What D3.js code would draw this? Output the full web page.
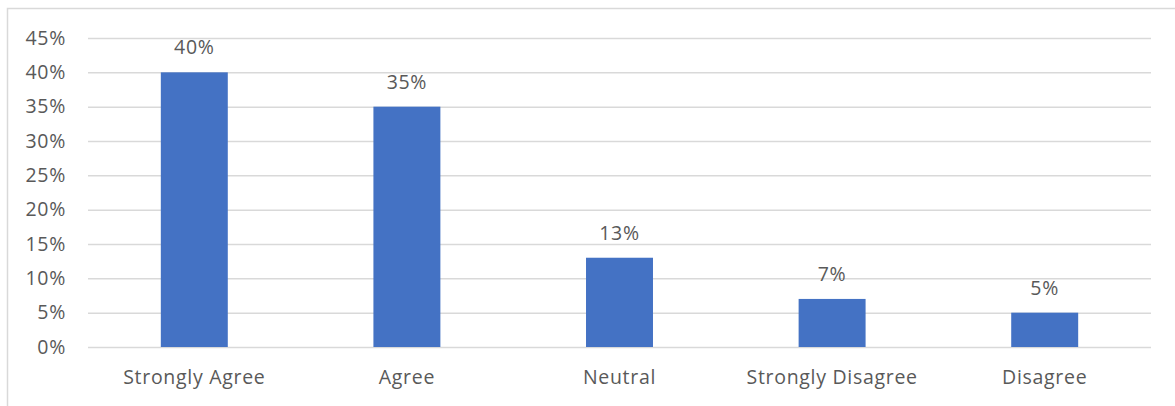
<!DOCTYPE html>
<html>
<head>
<meta charset="utf-8">
<script src="https://d3js.org/d3.v7.min.js"></script>
<style>
  body { margin: 0; background: #fff; }
  text { font-family: 'Open Sans', 'Noto Sans', sans-serif; fill: #595959; letter-spacing: 0.7px; }
</style>
</head>
<body>
<div id="vis"></div>
<script>
  // chart values
  var categories = ['Strongly Agree', 'Agree', 'Neutral', 'Strongly Disagree', 'Disagree'];
  var values = [40, 35, 13, 7, 5];
  var yTicks = [0, 5, 10, 15, 20, 25, 30, 35, 40, 45];

  var W = 1175, H = 406;
  var margin = { top: 38, right: 24, bottom: 59, left: 88 };
  var width = W - margin.left - margin.right;
  var height = H - margin.top - margin.bottom;
  var fs = '19.5px';

  var root = d3.select('#vis')
    .append('svg')
    .attr('width', W)
    .attr('height', H);

  // chart frame (left and top edges visible)
  root.append('path')
    .attr('d', 'M7.5,' + H + 'V8.5H' + W)
    .attr('fill', 'none')
    .attr('stroke', '#d9d9d9')
    .attr('stroke-width', 1.5);

  var svg = root.append('g')
    .attr('transform', 'translate(' + margin.left + ',' + margin.top + ')');

  var x = d3.scaleBand()
    .domain(categories)
    .range([0, width])
    .paddingInner(0.685)
    .paddingOuter(0.3425);

  var y = d3.scaleLinear()
    .domain([0, 45])
    .range([height, 0]);

  // gridlines + y labels
  var yAxis = svg.append('g')
    .call(d3.axisLeft(y).tickValues(yTicks).tickSize(-width).tickPadding(22)
      .tickFormat(function(d) { return d + '%'; }));
  yAxis.select('.domain').remove();
  yAxis.selectAll('.tick line').attr('stroke', '#d9d9d9').attr('stroke-width', 1.5);
  yAxis.selectAll('.tick text').style('font-size', fs).attr('fill', '#595959');

  // bars
  svg.append('g')
    .selectAll('rect')
    .data(values)
    .enter()
    .append('rect')
    .attr('x', function(d, i) { return x(categories[i]); })
    .attr('y', function(d) { return y(d); })
    .attr('width', x.bandwidth())
    .attr('height', function(d) { return height - y(d); })
    .attr('fill', '#4472c4');

  // value labels
  svg.append('g')
    .selectAll('text')
    .data(values)
    .enter()
    .append('text')
    .attr('x', function(d, i) { return x(categories[i]) + x.bandwidth() / 2; })
    .attr('y', function(d) { return y(d) - 18; })
    .attr('text-anchor', 'middle')
    .style('font-size', fs)
    .text(function(d) { return d + '%'; });

  // category labels
  var xAxis = svg.append('g')
    .attr('transform', 'translate(0,' + height + ')')
    .call(d3.axisBottom(x).tickSize(0).tickPadding(23));
  xAxis.select('.domain').remove();
  xAxis.selectAll('.tick text').style('font-size', fs).attr('fill', '#595959');
</script>
</body>
</html>
